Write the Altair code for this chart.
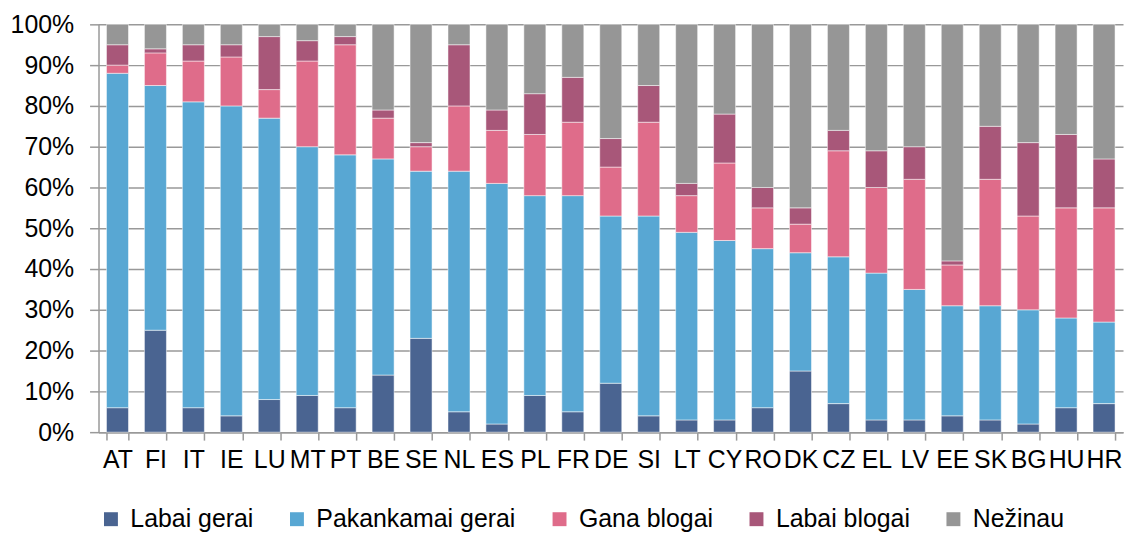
import altair as alt
import pandas as pd

countries = ["AT", "FI", "IT", "IE", "LU", "MT", "PT", "BE", "SE", "NL", "ES", "PL", "FR",
             "DE", "SI", "LT", "CY", "RO", "DK", "CZ", "EL", "LV", "EE", "SK", "BG", "HU", "HR"]

labai_gerai      = [6, 25, 6, 4, 8, 9, 6, 14, 23, 5, 2, 9, 5, 12, 4, 3, 3, 6, 15, 7, 3, 3, 4, 3, 2, 6, 7]
pakankamai_gerai = [82, 60, 75, 76, 69, 61, 62, 53, 41, 59, 59, 49, 53, 41, 49, 46, 44, 39, 29, 36, 36, 32, 27, 28, 28, 22, 20]
gana_blogai      = [2, 8, 10, 12, 7, 21, 27, 10, 6, 16, 13, 15, 18, 12, 23, 9, 19, 10, 7, 26, 21, 27, 10, 31, 23, 27, 28]
labai_blogai     = [5, 1, 4, 3, 13, 5, 2, 2, 1, 15, 5, 10, 11, 7, 9, 3, 12, 5, 4, 5, 9, 8, 1, 13, 18, 18, 12]
nezinau          = [5, 6, 5, 5, 3, 4, 3, 21, 29, 5, 21, 17, 13, 28, 15, 39, 22, 40, 45, 26, 31, 30, 58, 25, 29, 27, 33]

series_names = ["Labai gerai", "Pakankamai gerai", "Gana blogai", "Labai blogai", "Nežinau"]
series_colors = ["#4A6491", "#58A7D3", "#DF6C8A", "#A85779", "#969696"]
series_values = [labai_gerai, pakankamai_gerai, gana_blogai, labai_blogai, nezinau]

rows = []
for si, (name, vals) in enumerate(zip(series_names, series_values)):
    for c, v in zip(countries, vals):
        rows.append({"country": c, "series": name, "value": v / 100.0, "order": si})
df = pd.DataFrame(rows)

FONT = "Liberation Sans"

chart = alt.Chart(df).mark_bar(stroke="white", strokeWidth=0.5).encode(
    x=alt.X("country:N", sort=countries, title=None,
            scale=alt.Scale(paddingInner=0.42, paddingOuter=0.21),
            axis=alt.Axis(labelAngle=0, labelFontSize=25, labelFont=FONT, labelColor="#000",
                          tickBand="extent", tickSize=8, tickColor="#999", tickWidth=1.5,
                          domainColor="#999", domainWidth=1.5, labelPadding=8, grid=False)),
    y=alt.Y("value:Q", stack="zero", title=None,
            scale=alt.Scale(domain=[0, 1], nice=False),
            axis=alt.Axis(format=".0%", values=[i / 10 for i in range(11)],
                          labelFontSize=25, labelFont=FONT, labelColor="#000",
                          tickSize=9, tickColor="#999", tickWidth=1.5,
                          domainColor="#999", domainWidth=1.5, labelPadding=16,
                          grid=True, gridColor="#999", gridWidth=1.5)),
    color=alt.Color("series:N", sort=series_names,
                    scale=alt.Scale(domain=series_names, range=series_colors),
                    legend=alt.Legend(title=None, orient="none", direction="horizontal",
                                      legendX=0, legendY=485, columns=5, gridAlign="none",
                                      symbolType="square", symbolSize=196, symbolStrokeWidth=0,
                                      labelFontSize=25, labelFont=FONT, labelColor="#000",
                                      labelLimit=0, labelOffset=7, columnPadding=31, padding=0)),
    order=alt.Order("order:Q", sort="ascending"),
).properties(
    width=1030, height=410,
    autosize="none",
    padding={"left": 91, "top": 15, "right": 2, "bottom": 110},
).configure_view(stroke=None)

chart.save("out.html", embed_options={"renderer": "svg", "actions": False})
